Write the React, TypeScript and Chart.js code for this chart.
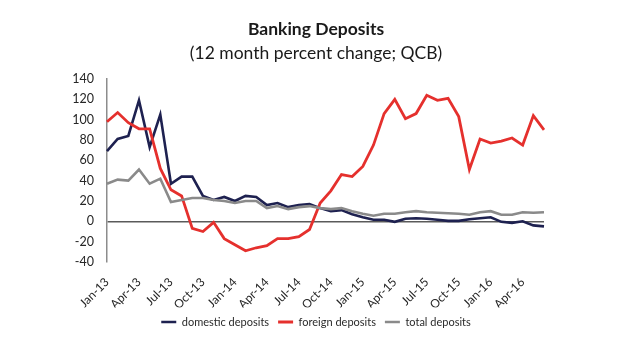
import React, { useEffect, useRef } from "react";
import { Chart, registerables } from "chart.js";

Chart.register(...registerables);

const months: string[] = [
  "Jan-13", "Feb-13", "Mar-13", "Apr-13", "May-13", "Jun-13", "Jul-13", "Aug-13", "Sep-13", "Oct-13", "Nov-13", "Dec-13",
  "Jan-14", "Feb-14", "Mar-14", "Apr-14", "May-14", "Jun-14", "Jul-14", "Aug-14", "Sep-14", "Oct-14", "Nov-14", "Dec-14",
  "Jan-15", "Feb-15", "Mar-15", "Apr-15", "May-15", "Jun-15", "Jul-15", "Aug-15", "Sep-15", "Oct-15", "Nov-15", "Dec-15",
  "Jan-16", "Feb-16", "Mar-16", "Apr-16", "May-16", "Jun-16",
];

const shownTickLabels: string[] = [
  "Jan-13", "Apr-13", "Jul-13", "Oct-13", "Jan-14", "Apr-14", "Jul-14",
  "Oct-14", "Jan-15", "Apr-15", "Jul-15", "Oct-15", "Jan-16", "Apr-16",
];

const domesticDeposits: number[] = [
  69, 81, 84, 119, 73, 105, 37, 44, 44, 25, 21, 24, 20, 25, 24, 16, 18, 14, 16, 17, 13,
  10, 11, 7, 4, 1.5, 1.5, -0.5, 2.5, 3, 2.5, 1.5, 0.5, 0.5, 2, 3, 4, -0.5, -1.5, 0, -4, -5,
];

const foreignDeposits: number[] = [
  98, 107, 97, 91, 91, 52, 31, 25, -7, -10, -1, -17, -23, -29, -26, -24, -17, -17, -15, -8, 18,
  30, 46, 44, 54, 75, 106, 120, 101, 106, 124, 119, 121, 103, 51, 81, 77, 79, 82, 75, 104, 90,
];

const totalDeposits: number[] = [
  37, 41, 40, 51, 37, 42, 19, 21, 23, 23, 21, 20, 18, 20, 20, 13, 15, 12, 14, 15, 13,
  12, 13, 10, 7.5, 5.5, 7.5, 7.5, 9, 10, 9, 8.5, 8, 7.5, 6.5, 9, 10, 6.5, 6.5, 9, 8.5, 9,
];

const FONT = "Lato, 'Open Sans', sans-serif";

export default function App() {
  const ref = useRef<HTMLCanvasElement | null>(null);

  useEffect(() => {
    if (!ref.current) return;
    const chart = new Chart(ref.current, {
      type: "line",
      data: {
        labels: months,
        datasets: [
          {
            label: "domestic deposits",
            data: domesticDeposits,
            borderColor: "#1e2150",
            backgroundColor: "#1e2150",
            borderWidth: 2.6,
            pointRadius: 0,
            tension: 0,
            order: 3,
          },
          {
            label: "foreign deposits",
            data: foreignDeposits,
            borderColor: "#e5302d",
            backgroundColor: "#e5302d",
            borderWidth: 2.8,
            pointRadius: 0,
            tension: 0,
            order: 2,
          },
          {
            label: "total deposits",
            data: totalDeposits,
            borderColor: "#8a8a8a",
            backgroundColor: "#8a8a8a",
            borderWidth: 2.6,
            pointRadius: 0,
            tension: 0,
            order: 1,
          },
        ],
      },
      options: {
        responsive: false,
        animation: false,
        devicePixelRatio: 1,
        layout: { padding: { left: 12, right: 0, top: 0, bottom: 17.5 } },
        plugins: {
          title: {
            display: true,
            text: "Banking Deposits",
            color: "#1a1a1a",
            font: { family: FONT, size: 17.5, weight: "bold" },
            padding: { top: 19, bottom: 1.5 },
          },
          subtitle: {
            display: true,
            text: "(12 month percent change; QCB)",
            color: "#1a1a1a",
            font: { family: FONT, size: 17.5, weight: "normal" },
            padding: { top: 1.5, bottom: 15 },
          },
          legend: {
            display: true,
            position: "bottom",
            labels: {
              usePointStyle: true,
              pointStyle: "line",
              pointStyleWidth: 15,
              padding: 9,
              color: "#2a2a2a",
              font: { family: FONT, size: 11 },
              sort: (a: any, b: any) => a.datasetIndex - b.datasetIndex,
            },
          },
          tooltip: { enabled: false },
        },
        scales: {
          x: {
            type: "category",
            grid: { display: false },
            border: { display: false },
            afterFit: (scale: any) => {
              scale.height = 45.5;
            },
            ticks: {
              autoSkip: false,
              minRotation: 45,
              maxRotation: 45,
              padding: 5,
              color: "#262626",
              font: { family: FONT, size: 12 },
              callback: (_v: any, i: number) =>
                shownTickLabels.includes(months[i]) ? months[i] : null,
            },
          },
          y: {
            position: "left",
            min: -40,
            max: 140,
            ticks: {
              stepSize: 20,
              padding: 13,
              color: "#262626",
              font: { family: FONT, size: 12.5 },
            },
            afterFit: (scale: any) => {
              scale.width = 95;
            },
            grid: {
              drawTicks: false,
              color: (ctx: any) => (ctx.tick && ctx.tick.value === 0 ? "#5a5a5a" : "rgba(0,0,0,0)"),
              lineWidth: 1.5,
            },
            border: { display: true, color: "#8c8c8c", width: 1.5 },
          },
          yRight: {
            type: "linear",
            position: "right",
            display: true,
            min: -40,
            max: 140,
            grid: { display: false, drawTicks: false },
            border: { display: false },
            ticks: { display: false },
            afterFit: (scale: any) => {
              scale.width = 76;
            },
          },
        },
      },
    });
    return () => chart.destroy();
  }, []);

  return (
    <div style={{ position: "absolute", left: 0, top: 0, width: 620, height: 355, background: "#fff" }}>
      <canvas ref={ref} width={620} height={355} />
    </div>
  );
}
